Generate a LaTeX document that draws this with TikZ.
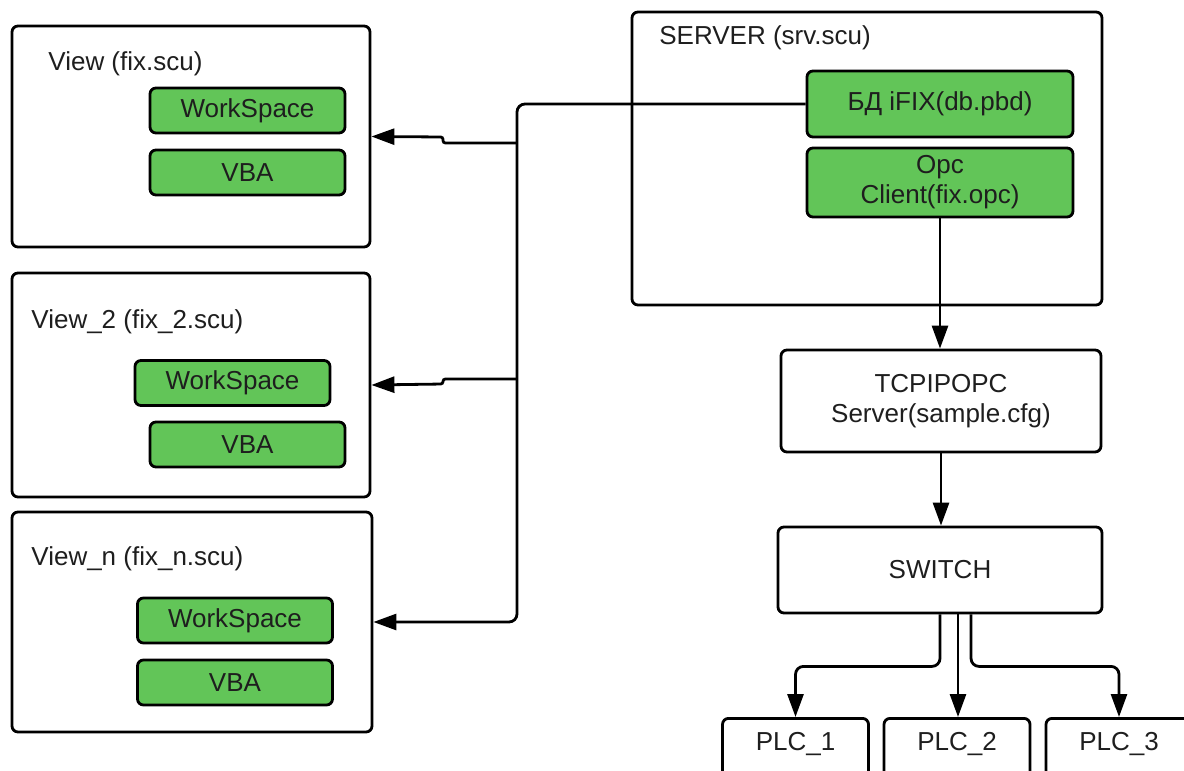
\documentclass[tikz,border=0pt]{standalone}
\usepackage{fontspec}
\setmainfont{Liberation Sans}
\usetikzlibrary{arrows.meta,positioning,calc}
\definecolor{boxgreen}{RGB}{98,197,88}
\definecolor{inkgray}{RGB}{30,30,30}

\begin{document}
\begin{tikzpicture}[x=0.5pt,y=-0.5pt,
    line width=1.4pt, >={Triangle[length=11.5pt,width=8pt]},
    every node/.style={font=\fontsize{13}{15}\selectfont, text=inkgray},
    frame/.style={draw, rounded corners=3pt, inner sep=0pt},
    greenbox/.style={frame, fill=boxgreen, minimum width=97.5pt, minimum height=22.5pt},
    plainbox/.style={frame, align=center},
    plcbox/.style={frame, anchor=north, minimum width=73pt, text height=9pt, text depth=30pt, inner ysep=7pt},
    title/.style={anchor=base west, inner sep=0pt},
    link/.style={->, rounded corners=4pt}]
    \useasboundingbox (0,0) rectangle (1184,771);
    \clip (0,0) rectangle (1184,771);

    % clients
    \node[frame, minimum width=179pt, minimum height=110.5pt] (view1) at (191,136.5) {};
    \node[title] (view1title) at (47,70) {View (fix.scu)};
    \node[greenbox] (ws1) at (247.5,110.5) {WorkSpace};
    \node[greenbox] (vba1) at (247.5,172.5) {VBA};

    \node[frame, minimum width=179pt, minimum height=112pt] (view2) at (191,385) {};
    \node[title] (view2title) at (30,328) {View\_2 (fix\_2.scu)};
    \node[greenbox] (ws2) at (232.5,383) {WorkSpace};
    \node[greenbox] (vba2) at (247.5,444.5) {VBA};

    \node[frame, minimum width=180pt, minimum height=110pt] (viewn) at (192,622) {};
    \node[title] (viewntitle) at (30,565) {View\_n (fix\_n.scu)};
    \node[greenbox] (wsn) at (235,620.5) {WorkSpace};
    \node[greenbox] (vban) at (235,682.5) {VBA};

    % server side
    \node[frame, minimum width=235pt, minimum height=146.5pt] (server) at (867,158.5) {};
    \node[title] (servertitle) at (658,45) {SERVER (srv.scu)};
    \node[greenbox, minimum width=133pt, minimum height=33pt] (bd) at (940,104) {БД iFIX(db.pbd)};
    \node[greenbox, minimum width=133pt, minimum height=34.5pt, align=center] (opc) at (940,182.5) {Opc\\Client(fix.opc)};

    \node[plainbox, minimum width=160pt, minimum height=51pt] (tcp) at (941,401) {TCPIPOPC\\Server(sample.cfg)};
    \node[plainbox, minimum width=162pt, minimum height=43pt] (switch) at (940,570) {SWITCH};

    \node[plcbox] (plc1) at (795.5,717) {PLC\_1};
    \node[plcbox] (plc2) at (957,717) {PLC\_2};
    \node[plcbox] (plc3) at (1119,717) {PLC\_3};

    % links
    \coordinate (bus) at (517,104);
    \coordinate (tap1) at (517,143);
    \coordinate (tap2) at (517,379);
    \draw[link] (bd.west) -| (bus |- viewn.east) -- (viewn.east);
    \draw[link, rounded corners=1.2pt] (tap1) -- (443,143) -- (443,137) -- (view1.east);
    \draw[link, rounded corners=1.2pt] (tap2) -- (443,379) -- (443,384) -- (view2.east);
    \draw[->] (opc.south) -- (opc.south |- tcp.north);
    \draw[->] (tcp.south) -- (tcp.south |- switch.north);
    \draw[link] (switch.south) -- ++(0,52) -| (plc1.north);
    \draw[->] ([xshift=9pt]switch.south) -- ([xshift=9pt]switch.south |- plc2.north);
    \draw[link] ([xshift=15.5pt]switch.south) -- ++(0,52) -| (plc3.north);
\end{tikzpicture}
\end{document}
